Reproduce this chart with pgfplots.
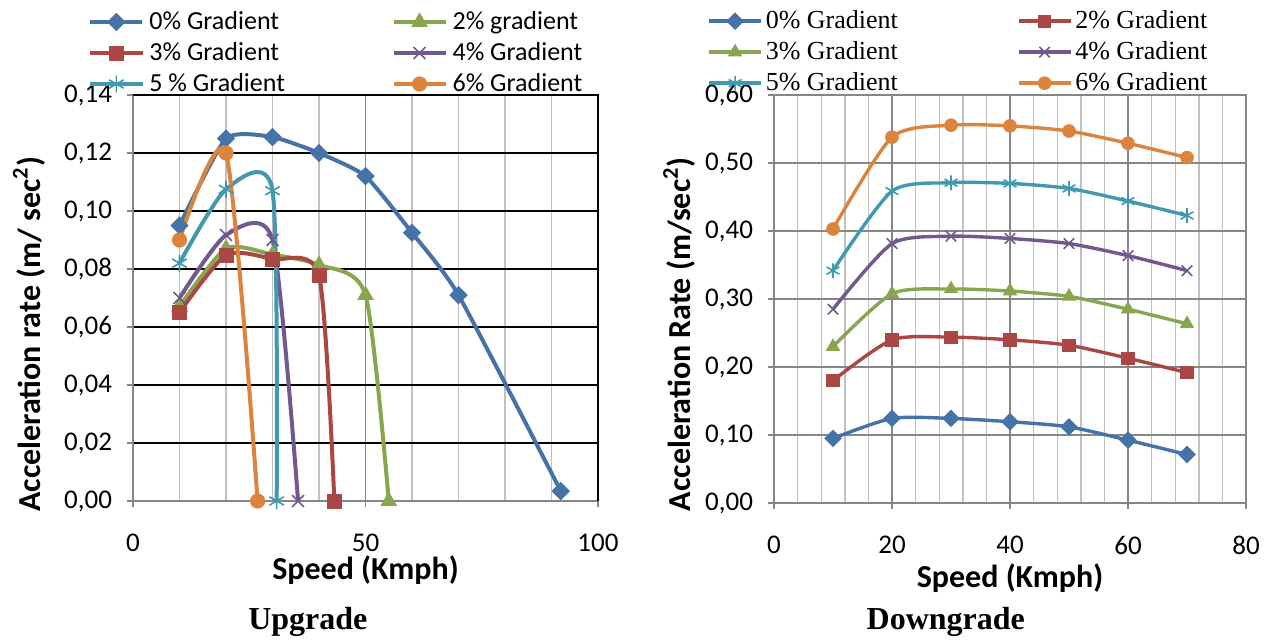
\documentclass[border=0pt]{standalone}
\usepackage{fontspec}
\setmainfont{Carlito}
\newfontfamily\timesf{Liberation Serif}
\usepackage{pgfplots}
\pgfplotsset{compat=1.18}
\definecolor{cblue}{HTML}{4572A7}
\definecolor{cred}{HTML}{AA4643}
\definecolor{cgreen}{HTML}{89A54E}
\definecolor{cpurple}{HTML}{71588F}
\definecolor{ccyan}{HTML}{4198AF}
\definecolor{corange}{HTML}{DB843D}
\definecolor{gdark}{HTML}{868686}
\definecolor{glight}{HTML}{C0C0C0}
\pgfplotsset{
  xlbase/.style={
    scale only axis, anchor=south west, clip=false,
    tick align=outside, tick pos=left,
    major tick length=3pt, minor tick length=0pt,
    tick style={draw=gdark, line width=0.8pt},
    axis line style={draw=gdark, line width=0.8pt},
    tick label style={font=\fontsize{13.5}{16}\selectfont},
    /pgf/number format/assume math mode=true,
    xticklabel style={yshift=-10pt},
    yticklabel style={xshift=-4pt},
    legend columns=2, legend cell align=left,
    legend image code/.code={\draw[mark repeat=2,mark phase=2,##1] plot coordinates {(0pt,0pt) (13pt,0pt) (26pt,0pt)};},
  },
  sdia/.style={mark=square*, mark options={rotate=45, scale=0.78}},
}
\begin{document}
\begin{tikzpicture}
\path[use as bounding box] (0,0) rectangle (638.5pt,319.5pt);
% ---------------- Upgrade ----------------
\begin{axis}[xlbase, at={(66.5pt,69pt)}, width=232.5pt, height=203pt,
  xmin=0, xmax=100, ymin=0, ymax=0.14,
  xtick={0,50,100}, minor x tick num=4,
  ytick={0,0.02,0.04,0.06,0.08,0.1,0.12,0.14},
  yticklabels={{0,00},{0,02},{0,04},{0,06},{0,08},{0,10},{0,12},{0,14}},
  xmajorgrids, xminorgrids, ymajorgrids,
  major x grid style={draw=gdark, line width=0.9pt},
  minor x grid style={draw=glight, line width=0.9pt},
  major y grid style={draw=black, line width=1pt},
  xlabel={Speed (Kmph)}, ylabel={Acceleration rate (m/ sec$^{\mathbf{2}}$)},
  every axis x label/.style={at={(axis description cs:0.5,-0.170)}, anchor=center, font=\bfseries\fontsize{16}{19}\selectfont},
  every axis y label/.style={at={(axis description cs:-0.2237,0.411)}, anchor=center, rotate=90, font=\bfseries\fontsize{16}{19}\selectfont},
  legend style={at={(-0.0968,1.1034)}, anchor=west, draw=none, fill=none, inner sep=0pt,
    row sep=3.5pt, font=\fontsize{13}{15}\selectfont,
    nodes={inner sep=0pt, text height=9.5pt, text depth=2.5pt},
    /tikz/every odd column/.append style={column sep=2.5pt},
    /tikz/every even column/.append style={column sep=53.3pt}},
  every axis plot/.append style={line width=2pt, smooth, tension=0.42},
  after end axis/.code={\draw[black, line width=1pt] (rel axis cs:0,1) -- (rel axis cs:1,1) -- (rel axis cs:1,0);
    \node[font=\timesf\bfseries\fontsize{16}{19}\selectfont] at (axis description cs:0.376,-0.298) {Upgrade};},
]
\addplot[cblue, sdia, mark size=2.9pt, tension=0.33] coordinates {(10,0.095)(20,0.125)(30,0.1255)(40,0.120)(50,0.112)(60,0.0925)(70,0.071)(92,0.0034)};
\addlegendentry{0\% Gradient}
\addplot[cgreen, mark=triangle*, mark size=4.4pt, mark options={line width=0.4pt}] coordinates {(10,0.067)(20,0.087)(30,0.085)(40,0.0814)(50,0.071)(55,0)};
\addlegendentry{2\% gradient}
\addplot[cred, mark=square*, mark size=3.5pt, mark options={line width=0.4pt}] coordinates {(10,0.065)(20,0.0848)(30,0.0834)(40,0.0777)(43.3,0)};
\addlegendentry{3\% Gradient}
\addplot[cpurple, mark=x, mark size=4.2pt, mark options={line width=0.8pt}] coordinates {(10,0.070)(20,0.0917)(30,0.090)(35.5,0)};
\addlegendentry{4\% Gradient}
\addplot[ccyan, mark=asterisk, mark size=4.2pt, mark options={line width=0.8pt}] coordinates {(10,0.082)(20,0.1075)(30,0.107)(30.9,0)};
\addlegendentry{5 \% Gradient}
\addplot[corange, mark=*, mark size=3.6pt, mark options={line width=0.4pt}] coordinates {(10,0.090)(20,0.120)(26.8,0)};
\addlegendentry{6\% Gradient}
\end{axis}
% ---------------- Downgrade ----------------
\begin{axis}[xlbase, at={(387pt,68pt)}, width=236pt, height=204pt,
  xmin=0, xmax=80, ymin=0, ymax=0.6,
  xtick={0,20,40,60,80}, minor x tick num=4,
  ytick={0,0.1,0.2,0.3,0.4,0.5,0.6},
  yticklabels={{0,00},{0,10},{0,20},{0,30},{0,40},{0,50},{0,60}},
  xmajorgrids, xminorgrids, ymajorgrids,
  major x grid style={draw=gdark, line width=0.7pt},
  minor x grid style={draw=glight, line width=0.7pt},
  major y grid style={draw=gdark, line width=0.7pt},
  xlabel={Speed (Kmph)}, ylabel={Acceleration Rate (m/sec$^{\mathbf{2}}$)},
  every axis x label/.style={at={(axis description cs:0.5,-0.184)}, anchor=center, font=\bfseries\fontsize{16}{19}\selectfont},
  every axis y label/.style={at={(axis description cs:-0.201,0.414)}, anchor=center, rotate=90, font=\bfseries\fontsize{16}{19}\selectfont},
  legend style={at={(-0.142,1.105)}, anchor=west, draw=none, fill=none, inner sep=0pt,
    row sep=3.5pt, font=\timesf\fontsize{13}{15}\selectfont,
    nodes={inner sep=0pt, text height=9.5pt, text depth=2.5pt},
    /tikz/every odd column/.append style={column sep=1.5pt},
    /tikz/every even column/.append style={column sep=59.5pt}},
  every axis plot/.append style={line width=1.7pt, smooth, tension=0.42},
  after end axis/.code={\draw[gdark, line width=0.8pt] (rel axis cs:0,1) -- (rel axis cs:1,1) -- (rel axis cs:1,0);
    \node[font=\timesf\bfseries\fontsize{16}{19}\selectfont] at (axis description cs:0.364,-0.292) {Downgrade};},
]
\addplot[cblue, sdia, mark size=2.9pt] coordinates {(10,0.095)(20,0.1244)(30,0.1244)(40,0.1195)(50,0.112)(60,0.0924)(70,0.0713)};
\addlegendentry{0\% Gradient}
\addplot[cred, mark=square*, mark size=3.1pt, mark options={line width=0.4pt}] coordinates {(10,0.180)(20,0.240)(30,0.2439)(40,0.240)(50,0.232)(60,0.2129)(70,0.1917)};
\addlegendentry{2\% Gradient}
\addplot[cgreen, mark=triangle*, mark size=3.8pt, mark options={line width=0.4pt}] coordinates {(10,0.230)(20,0.3078)(30,0.3147)(40,0.3117)(50,0.3038)(60,0.285)(70,0.2635)};
\addlegendentry{3\% Gradient}
\addplot[cpurple, mark=x, mark size=3.7pt, mark options={line width=0.8pt}] coordinates {(10,0.285)(20,0.3815)(30,0.3923)(40,0.389)(50,0.3815)(60,0.3638)(70,0.3417)};
\addlegendentry{4\% Gradient}
\addplot[ccyan, mark=asterisk, mark size=3.7pt, mark options={line width=0.8pt}] coordinates {(10,0.3417)(20,0.4587)(30,0.471)(40,0.470)(50,0.4626)(60,0.444)(70,0.4228)};
\addlegendentry{5\% Gradient}
\addplot[corange, mark=*, mark size=3.2pt, mark options={line width=0.4pt}] coordinates {(10,0.403)(20,0.538)(30,0.5556)(40,0.5546)(50,0.547)(60,0.529)(70,0.508)};
\addlegendentry{6\% Gradient}
\end{axis}
\end{tikzpicture}
\end{document}
